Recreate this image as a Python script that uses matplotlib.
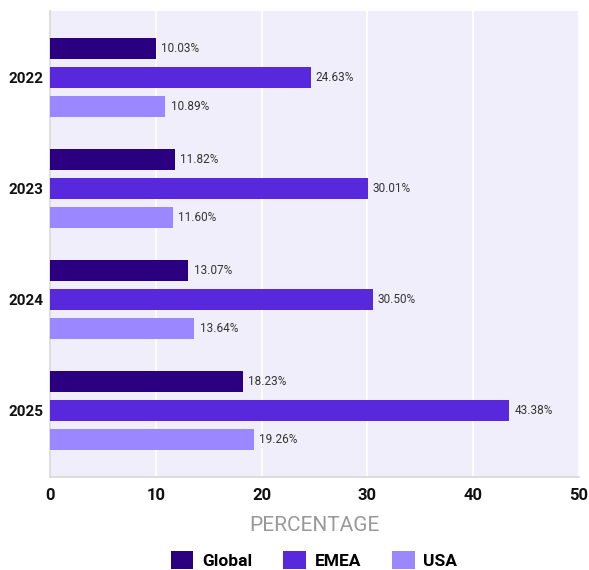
import matplotlib
matplotlib.use('Agg')
from matplotlib import pyplot as plt
from matplotlib.patches import Patch
import numpy as np

years = ["2022", "2023", "2024", "2025"]
global_vals = [10.03, 11.82, 13.07, 18.23]
emea_vals = [24.63, 30.01, 30.50, 43.38]
usa_vals = [10.89, 11.60, 13.64, 19.26]

series = [("Global", global_vals, "#2B0080"),
          ("EMEA", emea_vals, "#5829DC"),
          ("USA", usa_vals, "#9B87FF")]

plt.rcParams['font.family'] = ['Roboto', 'DejaVu Sans']

fig = plt.figure(figsize=(5.89, 5.70), dpi=100)
ax = fig.add_axes([50/589, 93/570, 529/589, 466/570])
ax.set_facecolor('#F1EEFB')

y = np.arange(len(years))
h = 0.19
offsets = [-0.262, 0, 0.262]
for (name, vals, col), off in zip(series, offsets):
    bars = ax.barh(y + off, vals, height=h, color=col, label=name, zorder=3)
    for b, v in zip(bars, vals):
        ax.text(b.get_width() + 0.5, b.get_y() + b.get_height()/2, f"{v:.2f}%",
                va='center', ha='left', fontsize=8.5, color='#333333', zorder=4)

ax.set_ylim(3.6, -0.6)
ax.set_xlim(0, 50)
ax.set_yticks(y)
ax.set_yticklabels(years, fontsize=11, fontweight='bold', color='#111111')
ax.set_xticks([0, 10, 20, 30, 40, 50])
ax.tick_params(axis='x', labelsize=12, length=0, pad=8, labelcolor='#111111')
ax.tick_params(axis='y', length=0, pad=5)
for lbl in ax.get_xticklabels():
    lbl.set_fontweight('bold')

ax.grid(axis='x', color='white', linewidth=1.2, zorder=1)
ax.grid(axis='y', visible=False)
ax.spines['top'].set_visible(False)
ax.spines['right'].set_visible(False)
ax.spines['left'].set_color('#D8D8D8')
ax.spines['bottom'].set_color('#D8D8D8')
ax.spines['left'].set_linewidth(1.2)
ax.spines['bottom'].set_linewidth(1.2)

ax.set_xlabel("PERCENTAGE", fontsize=15, color='#999999', labelpad=9)

handles = [Patch(facecolor=c, label=n) for n, _, c in series]
leg = fig.legend(handles=handles, loc='center', ncol=3, frameon=False,
                 bbox_to_anchor=(314/589, 10/570), handlelength=1.3, handleheight=1.3,
                 columnspacing=1.8, handletextpad=0.5,
                 prop={'weight': 'bold', 'size': 12.5})

fig.savefig('out.png', dpi=100)
